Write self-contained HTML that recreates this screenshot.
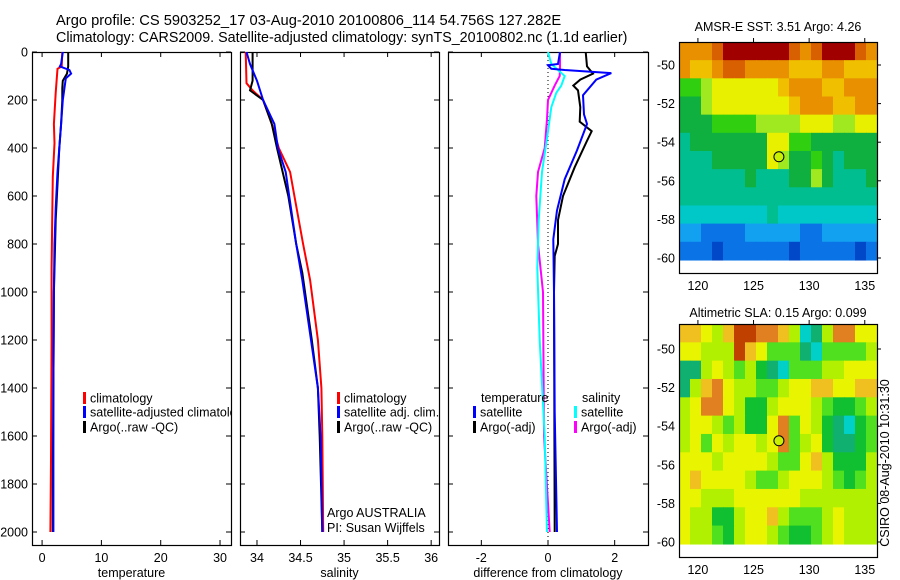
<!DOCTYPE html>
<html><head><meta charset="utf-8"><style>
html,body{margin:0;padding:0;background:#fff;}
svg{display:block;font-family:"Liberation Sans",sans-serif;}
text{fill:#000;}
</style></head><body>
<svg id="fig" width="900" height="580" viewBox="0 0 900 580">
<text x="56" y="25" font-size="14.7">Argo profile: CS 5903252_17 03-Aug-2010 20100806_114 54.756S 127.282E</text>
<text x="56" y="42" font-size="14.3">Climatology: CARS2009. Satellite-adjusted climatology: synTS_20100802.nc (1.1d earlier)</text>
<g id="plots"></g>
<text x="0" y="0" font-size="12.5" transform="translate(889,463) rotate(-90)" text-anchor="middle">CSIRO 08-Aug-2010 10:31:30</text>
</svg>
<script>
// ---------- data ----------
const depthTicks = [0,200,400,600,800,1000,1200,1400,1600,1800,2000];
const tempTicks = [0,10,20,30];
const salTicks = [34,34.5,35,35.5,36];
const salTickLabels = ["34","34.5","35","35.5","36"];
const diffTicks = [-2,0,2];

const tClimDepth = [0,60,70,170,300,380,520,700,900,1200,1700,2000];
const tClimVal   = [3.4,3.3,2.6,2.3,2.0,2.1,1.8,1.7,1.6,1.6,1.5,1.4];
const tSatDepth  = [0,50,60,75,90,110,200,300,400,500,650,800,1000,1400,2000];
const tSatVal    = [3.5,3.2,3.0,4.6,4.9,4.0,3.5,3.2,2.9,2.6,2.3,2.1,2.0,1.9,1.9];
const tArgDepth  = [0,60,90,120,150,200,300,400,600,700,1000,1400,1800,2000];
const tArgVal    = [4.4,4.4,4.2,3.5,3.4,3.4,3.2,2.9,2.5,2.3,2.0,1.9,1.8,1.8];

const sClimDepth = [0,130,160,200,300,400,500,600,800,950,1200,1400,1600,2000];
const sClimVal   = [33.87,33.88,33.95,34.07,34.17,34.25,34.38,34.43,34.53,34.61,34.70,34.74,34.75,34.76];
const sSatDepth  = [0,50,120,200,300,400,500,600,800,950,1200,1400,1600,2000];
const sSatVal    = [33.88,33.92,34.0,34.07,34.2,34.24,34.33,34.37,34.45,34.52,34.62,34.70,34.73,34.75];
const sArgDepth  = [0,120,160,200,300,400,600,800,920,1200,1400,1600,2000];
const sArgVal    = [33.95,33.95,33.92,34.07,34.17,34.23,34.36,34.45,34.52,34.63,34.70,34.72,34.75];

const dTSatDepth = [0,50,55,70,75,88,115,180,260,300,410,530,660,780,1000,1500,2000];
const dTSatVal   = [0.36,0.3,0.0,0.1,0.5,1.9,1.45,1.05,1.08,1.17,0.87,0.5,0.27,0.16,0.18,0.2,0.27];
const dTArgDepth = [0,60,90,115,140,160,230,290,330,370,480,600,700,800,850,1000,2000];
const dTArgVal   = [1.13,1.17,1.35,0.97,0.76,0.9,0.97,0.95,1.31,1.17,0.8,0.45,0.3,0.3,0.2,0.18,0.2];
const dSSatDepth = [0,50,100,140,170,230,330,500,700,900,1200,1600,2000];
const dSSatVal   = [0.0,0.1,0.5,0.4,0.25,0.1,0.0,-0.18,-0.28,-0.32,-0.25,-0.1,-0.03];
const dSArgDepth = [0,60,100,140,200,280,400,500,600,800,1000,1600,2000];
const dSArgVal   = [0.36,0.36,0.35,0.2,0.0,-0.03,-0.1,-0.3,-0.35,-0.3,-0.15,-0.12,0.05];

const sstColors = ["#0048c8","#0a74e6","#12a0f0","#00c8c8","#00be90","#10b040","#30d010","#a0e820","#e8f000","#f0c000","#e89000","#d86000","#a00000"];
const sstGrid = [
[10,10,10,11,12,12,12,12,12,12,11,10,11,12,12,12,11,10],
[10,9,9,10,11,11,10,10,10,10,9,9,9,10,10,9,9,9],
[6,6,7,8,8,8,8,8,8,9,10,10,10,9,9,10,10,10],
[5,5,7,8,8,8,8,8,8,8,9,10,10,10,9,9,10,10],
[5,5,5,6,6,6,6,7,7,7,7,8,8,8,7,7,8,8],
[4,5,5,5,5,5,5,5,8,8,6,6,5,5,5,5,5,5],
[4,4,4,5,5,5,5,5,8,7,5,5,6,5,4,5,5,5],
[4,4,4,4,4,4,5,4,4,4,5,5,7,5,4,4,4,5],
[4,4,4,4,4,4,4,4,4,4,4,4,4,4,4,4,4,4],
[3,3,3,3,3,3,3,3,4,3,3,3,3,3,3,3,3,3],
[2,2,1,1,1,1,2,2,2,2,2,1,1,2,2,2,2,2],
[1,1,1,0,1,1,1,1,1,1,0,1,1,1,1,1,0,1]];
const slaColors = ["#00d0c8","#10b070","#10c030","#50e020","#b0f000","#e8f400","#f0c020","#e08020","#c04000"];
const slaGrid = [
[6,6,5,4,6,8,8,7,7,6,4,0,1,4,7,7,5,5],
[5,5,4,4,4,8,6,5,3,3,3,1,0,3,3,3,3,4],
[1,1,4,5,4,3,4,2,1,0,3,3,3,4,4,5,5,5],
[1,4,6,7,5,4,4,3,3,4,5,5,6,6,5,5,6,6],
[4,5,7,7,5,4,2,2,4,5,5,5,4,3,2,2,3,4],
[4,5,5,4,3,4,2,2,5,7,3,5,4,2,1,0,2,3],
[4,5,3,5,4,5,5,4,5,7,3,4,5,2,1,1,2,3],
[5,5,5,4,5,5,5,5,4,3,3,5,6,4,2,2,2,4],
[5,6,5,5,5,5,4,3,3,4,5,5,5,4,3,2,3,4],
[5,5,4,4,4,5,5,5,5,5,5,4,4,4,4,4,4,4],
[5,4,4,2,2,4,5,5,6,4,3,3,3,4,5,4,4,4],
[5,4,4,3,2,4,5,5,4,3,2,2,3,4,5,4,4,4]];
const lonTicks = [120,125,130,135];
const latTicks = [-50,-52,-54,-56,-58,-60];
const floatLon = 127.282, floatLat = -54.756;

// ---------- drawing ----------
const NS="http://www.w3.org/2000/svg";
const root=document.getElementById('plots');
function mk(tag,attrs,parent){const e=document.createElementNS(NS,tag);for(const k in attrs)e.setAttribute(k,attrs[k]);(parent||root).appendChild(e);return e;}
function txt(x,y,s,size,anchor,parent){const t=mk('text',{x:x,y:y,'font-size':size,'text-anchor':anchor||'start'},parent);t.textContent=s;return t;}

const yTop=52,yBot=545;
const yD=d=>yTop+d*0.24;
function panel(name,x0,x1,vmin,vmax,ticks,labels,xlabel,showY){
  const g=mk('g',{});
  
  
  const xs=v=>x0+(v-vmin)/(vmax-vmin)*(x1-x0);
  const fr=mk('rect',{x:x0+.5,y:yTop+.5,width:x1-x0,height:yBot-yTop,fill:'none',stroke:'#000','stroke-width':1.2},g);
  
  
  ticks.forEach((v,i)=>{const x=xs(v);
    mk('line',{x1:x,x2:x,y1:yTop,y2:yTop+5,stroke:'#000'},g);
    mk('line',{x1:x,x2:x,y1:yBot,y2:yBot-5,stroke:'#000'},g);
    const t=txt(x,562,labels[i],12.5,'middle',g);
    
    
  });
  depthTicks.forEach(d=>{const y=yD(d);
    mk('line',{x1:x0,x2:x0+5,y1:y,y2:y,stroke:'#000'},g);
    mk('line',{x1:x1,x2:x1-5,y1:y,y2:y,stroke:'#000'},g);
    if(showY){const t=txt(x0-4,y+4.5,String(d),12.5,'end',g);
      
      }
  });
  const xl=txt((x0+x1)/2,577,xlabel,12.5,'middle',g);
  
  
  const cp=mk('clipPath',{id:'cp-'+name},g);
  mk('rect',{x:x0,y:yTop,width:x1-x0,height:yBot-yTop},cp);
  const inner=mk('g',{'clip-path':'url(#cp-'+name+')'},g);
  return {g,inner,xs};
}
function line(p,depths,vals,color,name){
  const pts=depths.map((d,i)=>p.xs(vals[i]).toFixed(1)+','+yD(d).toFixed(1)).join(' ');
  const l=mk('polyline',{points:pts,fill:'none',stroke:color,'stroke-width':2},p.inner);
  
  
}
function legend(p,x,y,color,label,name){
  mk('rect',{x:x-1,y:y-6,width:3,height:12,fill:color},p.inner);
  const t=txt(x+6,y+4.5,label,12.5,'start',p.inner);
  
  
}

// temperature panel
const p1=panel('temperature-panel',32,231,-1.7,31.85,tempTicks,tempTicks.map(String),'temperature',true);
line(p1,tClimDepth,tClimVal,'#f00','temp-climatology-line');
line(p1,tArgDepth,tArgVal,'#000','temp-argo-line');
line(p1,tSatDepth,tSatVal,'#00f','temp-satellite-line');
legend(p1,84,398,'#f00','climatology','legend-climatology');
legend(p1,84,412,'#00f','satellite-adjusted climatology','legend-satellite-adjusted');
legend(p1,84,427,'#000','Argo(..raw -QC)','legend-argo');

// salinity panel
const p2=panel('salinity-panel',240,439,33.805,36.09,salTicks,salTickLabels,'salinity',false);
line(p2,sClimDepth,sClimVal,'#f00','sal-climatology-line');
line(p2,sArgDepth,sArgVal,'#000','sal-argo-line');
line(p2,sSatDepth,sSatVal,'#00f','sal-satellite-line');
legend(p2,338,398,'#f00','climatology','legend-sal-climatology');
legend(p2,338,412,'#00f','satellite adj. clim.','legend-sal-satellite');
legend(p2,338,427,'#000','Argo(..raw -QC)','legend-sal-argo');
const a1=txt(327,517,'Argo AUSTRALIA',12.5,'start',p2.inner);


const a2=txt(327,532,'PI: Susan Wijffels',12.5,'start',p2.inner);



// difference panel
const p3=panel('difference-panel',448,648,-3,3,diffTicks,diffTicks.map(String),'difference from climatology',false);
const zx=p3.xs(0);
const zl=mk('line',{x1:zx,x2:zx,y1:yTop,y2:yBot,stroke:'#000','stroke-width':1,'stroke-dasharray':'1,3'},p3.inner);


line(p3,dSArgDepth,dSArgVal,'#f0f','diff-sal-argo-line');
line(p3,dSSatDepth,dSSatVal,'#0ff','diff-sal-satellite-line');
line(p3,dTArgDepth,dTArgVal,'#000','diff-temp-argo-line');
line(p3,dTSatDepth,dTSatVal,'#00f','diff-temp-satellite-line');
const lt=txt(481,402,'temperature',12.5,'start',p3.inner);


const ls=txt(582,402,'salinity',12.5,'start',p3.inner);


legend(p3,474,412,'#00f','satellite','legend-diff-temp-satellite');
legend(p3,474,427,'#000','Argo(-adj)','legend-diff-temp-argo');
legend(p3,575,412,'#0ff','satellite','legend-diff-sal-satellite');
legend(p3,575,427,'#f0f','Argo(-adj)','legend-diff-sal-argo');

// maps
function map(name,title,x0,x1,y0,y1,yN50,yN60,grid,colors,titleY){
  const g=mk('g',{});
  
  
  const lonMin=118.3,lonMax=136.1;
  const xs=lo=>x0+(lo-lonMin)/(lonMax-lonMin)*(x1-x0);
  const ys=la=>yN50+(la+50)/(-10)*(yN60-yN50);
  const latTop=-50+(y0-yN50)/(yN60-yN50)*(-10);
  const latBot=-60.1;
  const rows=grid.length,cols=grid[0].length;
  const dLat=(latTop-latBot)/rows,dLon=(lonMax-lonMin)/cols;
  grid.forEach((row,r)=>row.forEach((v,c)=>{
    const xa=xs(lonMin+c*dLon),xb=xs(lonMin+(c+1)*dLon);
    const ya=ys(latTop-r*dLat),yb=ys(latTop-(r+1)*dLat);
    const cell=mk('rect',{x:xa,y:ya,width:xb-xa+0.6,height:yb-ya+0.6,fill:colors[v]},g);
    
    
  }));
  mk('rect',{x:x0+.5,y:y0+.5,width:x1-x0,height:y1-y0,fill:'none',stroke:'#000','stroke-width':1.2},g);
  lonTicks.forEach(lo=>{const x=xs(lo);
    mk('line',{x1:x,x2:x,y1:y0,y2:y0-4,stroke:'#000'},g);
    const t=txt(x,y1+17,String(lo),12.5,'middle',g);
    
    });
  latTicks.forEach(la=>{const y=ys(la);
    mk('line',{x1:x1,x2:x1+4,y1:y,y2:y,stroke:'#000'},g);
    const t=txt(x0-4,y+4.5,String(la),12.5,'end',g);
    
    });
  const tt=txt((x0+x1)/2,titleY,title,12.5,'middle',g);
  
  
  const c=mk('circle',{cx:xs(floatLon),cy:ys(floatLat),r:5,fill:'#c8f000',stroke:'#000','stroke-width':1},g);
  
  
}
map('sst-map','AMSR-E SST: 3.51 Argo: 4.26',679,877,42,273,65,258,sstGrid,sstColors,31);
map('sla-map','Altimetric SLA: 0.15 Argo: 0.099',679,877,324,557,349,542,slaGrid,slaColors,317);
</script>
</body></html>
